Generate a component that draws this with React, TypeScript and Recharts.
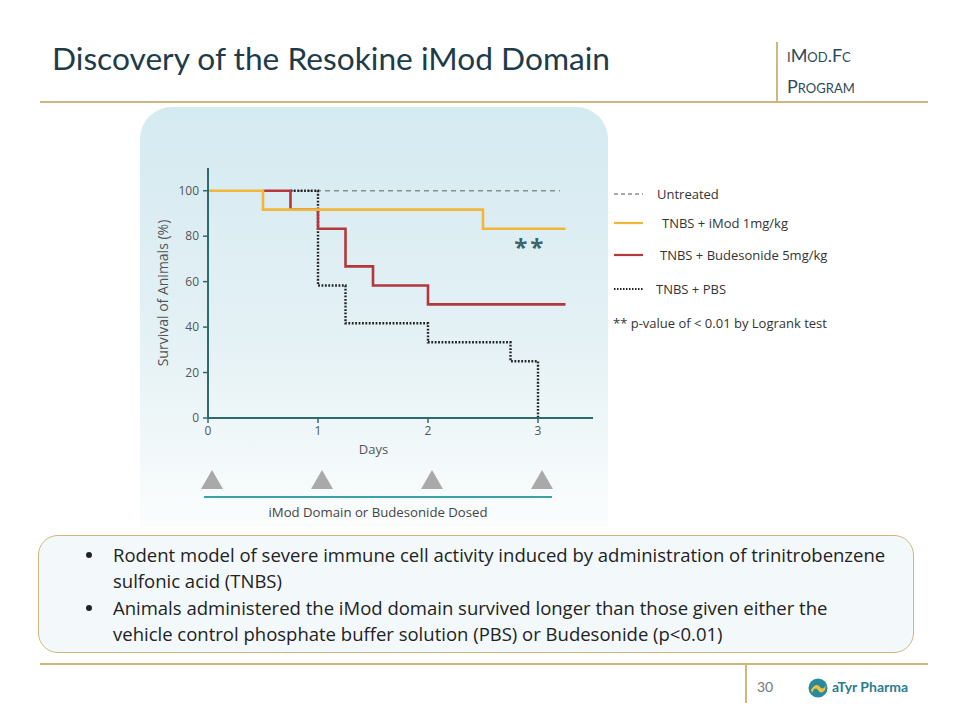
import React from "react";
import {
	LineChart,
	Line,
	XAxis,
	YAxis,
	ReferenceDot,
	ScatterChart,
	Scatter,
} from "recharts";

// Kaplan-Meier steps (day, survival %)
const UNTREATED = [
	{ day: 0, value: 100 },
	{ day: 3.2, value: 100 },
];
const IMOD = [
	{ day: 0, value: 100 },
	{ day: 0.5, value: 91.7 },
	{ day: 2.5, value: 83.3 },
	{ day: 3.25, value: 83.3 },
];
const BUDESONIDE = [
	{ day: 0.5, value: 100 },
	{ day: 0.75, value: 91.7 },
	{ day: 1, value: 83.3 },
	{ day: 1.25, value: 66.7 },
	{ day: 1.5, value: 58.3 },
	{ day: 2, value: 50 },
	{ day: 3.25, value: 50 },
];
const PBS = [
	{ day: 0.75, value: 100 },
	{ day: 1, value: 58.3 },
	{ day: 1.25, value: 41.7 },
	{ day: 2, value: 33.3 },
	{ day: 2.75, value: 25 },
	{ day: 3, value: 0 },
];
const DOSE_DAYS = [0, 1, 2, 3];
const X_TICKS = [0, 1, 2, 3];
const Y_TICKS = [0, 20, 40, 60, 80, 100];

const LEGEND = [
	{ label: "Untreated", color: "#8c8c8c", dash: "4 3", width: 1.6, x: 657 },
	{ label: "TNBS + iMod 1mg/kg", color: "#f2b63a", dash: "", width: 2.2, x: 662 },
	{ label: "TNBS + Budesonide 5mg/kg", color: "#b3373c", dash: "", width: 2.2, x: 660 },
	{ label: "TNBS + PBS", color: "#222", dash: "1.5 1.5", width: 2, x: 656 },
];
const LEGEND_Y = [194, 223, 255, 289];

const BULLETS = [
	[
		"Rodent model of severe immune cell activity induced by administration of trinitrobenzene",
		"sulfonic acid (TNBS)",
	],
	[
		"Animals administered the iMod domain survived longer than those given either the",
		"vehicle control phosphate buffer solution (PBS) or Budesonide (p<0.01)",
	],
];

const AXIS = "#2f6b6c";
const GOLD = "#d2b57c";
const TICK = { fill: "#555", fontSize: 12, fontFamily: "Open Sans" };

const Triangle = (props: any) => {
	const { cx, cy } = props;
	const x = cx + 4;
	return (
		<polygon
			points={`${x - 11},${cy + 9} ${x + 11},${cy + 9} ${x},${cy - 10}`}
			fill="#a9a9a9"
		/>
	);
};

export default function App() {
	return (
		<div
			style={{
				position: "absolute",
				left: 0,
				top: 0,
				width: 960,
				height: 720,
				background: "#fff",
				fontFamily: "Lato",
				overflow: "hidden",
			}}
		>
			{/* header */}
			<div
				style={{
					position: "absolute",
					left: 52,
					top: 39,
					fontSize: 31.7,
					color: "#1d3b49",
					whiteSpace: "nowrap",
				}}
			>
				Discovery of the Resokine iMod Domain
			</div>
			<div style={{ position: "absolute", left: 40, top: 101, width: 888, height: 1.5, background: GOLD }} />
			<div style={{ position: "absolute", left: 776, top: 42, width: 1.5, height: 60, background: GOLD }} />
			<div
				style={{
					position: "absolute",
					left: 787,
					top: 40,
					fontSize: 18,
					lineHeight: "31px",
					color: "#2c4a5a",
					fontVariant: "small-caps",
				}}
			>
				<div>iMod.Fc</div>
				<div>Program</div>
			</div>

			{/* chart panel */}
			<div
				style={{
					position: "absolute",
					left: 140,
					top: 107,
					width: 468,
					height: 420,
					borderRadius: "32px 32px 0 0",
					background: "linear-gradient(#d4eaf1 0%, #e4f1f5 55%, #fbfdfd 100%)",
				}}
			/>
			<div style={{ position: "absolute", left: 140, top: 150 }}>
				<LineChart
					width={468}
					height={320}
					margin={{ top: 18, right: 15, left: 0, bottom: 16 }}
				>
					<XAxis
						type="number"
						dataKey="day"
						domain={[0, 3.5]}
						ticks={X_TICKS}
						allowDataOverflow
						tickSize={5}
						tickMargin={3}
						height={36}
						tick={TICK}
						axisLine={{ stroke: AXIS, strokeWidth: 2 }}
						tickLine={{ stroke: AXIS, strokeWidth: 1.5 }}
						label={{
							value: "Days",
							position: "insideBottom",
							offset: 0,
							dx: -27,
							fill: "#555",
							fontSize: 13,
							fontFamily: "Open Sans",
						}}
					/>
					<YAxis
						type="number"
						dataKey="value"
						domain={[0, 110]}
						ticks={Y_TICKS}
						width={68}
						tickSize={5}
						tickMargin={4}
						tick={TICK}
						axisLine={{ stroke: AXIS, strokeWidth: 2 }}
						tickLine={{ stroke: AXIS, strokeWidth: 1.5 }}
						label={{
							value: "Survival of Animals (%)",
							angle: -90,
							position: "insideLeft",
							dx: 18,
							style: { textAnchor: "middle" },
							fill: "#555",
							fontSize: 14,
							fontFamily: "Open Sans",
						}}
					/>
					<Line
						data={UNTREATED}
						dataKey="value"
						type="stepAfter"
						stroke="#8c8c8c"
						strokeWidth={1.6}
						strokeDasharray="5 4"
						dot={false}
						isAnimationActive={false}
					/>
					<Line
						data={PBS}
						dataKey="value"
						type="stepAfter"
						stroke="#222"
						strokeWidth={2.4}
						strokeDasharray="1.8 1.6"
						dot={false}
						isAnimationActive={false}
					/>
					<Line
						data={BUDESONIDE}
						dataKey="value"
						type="stepAfter"
						stroke="#b3373c"
						strokeWidth={2.6}
						dot={false}
						isAnimationActive={false}
					/>
					<Line
						data={IMOD}
						dataKey="value"
						type="stepAfter"
						stroke="#f2b63a"
						strokeWidth={2.6}
						dot={false}
						isAnimationActive={false}
					/>
					<ReferenceDot
						x={2.93}
						y={75}
						r={0}
						fill="none"
						stroke="none"
						label={{
							value: "**",
							fill: "#3f6469",
							fontSize: 24,
							fontWeight: 700,
							letterSpacing: 3,
							fontFamily: "Open Sans",
						}}
					/>
				</LineChart>
			</div>

			{/* dosing markers */}
			<div style={{ position: "absolute", left: 140, top: 460 }}>
				<ScatterChart width={468} height={40} margin={{ top: 0, right: 15, left: 68, bottom: 0 }}>
					<XAxis type="number" dataKey="day" domain={[0, 3.5]} hide />
					<YAxis type="number" dataKey="y" domain={[0, 1]} hide />
					<Scatter
						data={DOSE_DAYS.map((d) => ({ day: d, y: 0.5 }))}
						shape={Triangle}
						isAnimationActive={false}
					/>
				</ScatterChart>
			</div>
			<div style={{ position: "absolute", left: 204, top: 496, width: 348, height: 2, background: "#3aa2a6" }} />
			<div
				style={{
					position: "absolute",
					left: 204,
					top: 503,
					width: 348,
					textAlign: "center",
					fontSize: 13.2,
					fontFamily: "Open Sans",
					color: "#444",
				}}
			>
				iMod Domain or Budesonide Dosed
			</div>

			{/* legend */}
			<svg style={{ position: "absolute", left: 0, top: 0 }} width={960} height={400}>
				{LEGEND.map((l, i) => (
					<line
						key={l.label}
						x1={614}
						x2={643}
						y1={LEGEND_Y[i]}
						y2={LEGEND_Y[i]}
						stroke={l.color}
						strokeWidth={l.width}
						strokeDasharray={l.dash}
					/>
				))}
			</svg>
			{LEGEND.map((l, i) => (
				<div
					key={l.label}
					style={{
						position: "absolute",
						left: l.x,
						top: LEGEND_Y[i] - 10,
						lineHeight: "20px",
						fontSize: 13,
						fontFamily: "Open Sans",
						color: "#333",
						whiteSpace: "nowrap",
					}}
				>
					{l.label}
				</div>
			))}
			<div
				style={{
					position: "absolute",
					left: 613,
					top: 313,
					lineHeight: "20px",
					fontSize: 13,
					fontFamily: "Open Sans",
					color: "#333",
					whiteSpace: "nowrap",
				}}
			>
				** p-value of &lt; 0.01 by Logrank test
			</div>

			{/* bullet box */}
			<div
				style={{
					position: "absolute",
					left: 38,
					top: 535,
					width: 874,
					height: 116,
					border: `1.5px solid ${GOLD}`,
					borderRadius: 20,
					background: "#f3f9fb",
				}}
			/>
			{BULLETS.map((b, i) =>
				b.map((line, j) => (
					<div
						key={`${i}-${j}`}
						style={{
							position: "absolute",
							left: 113,
							top: 542 + i * 53 + j * 26,
							lineHeight: "26px",
							fontSize: 18.5,
							fontFamily: "Open Sans",
							color: "#222",
							whiteSpace: "nowrap",
						}}
					>
						{j === 0 && (
							<span
								style={{
									position: "absolute",
									left: -27,
									top: 10,
									width: 6,
									height: 6,
									borderRadius: 3,
									background: "#222",
								}}
							/>
						)}
						{line}
					</div>
				)),
			)}

			{/* footer */}
			<div style={{ position: "absolute", left: 40, top: 663, width: 888, height: 1.5, background: GOLD }} />
			<div style={{ position: "absolute", left: 745, top: 663, width: 1.5, height: 40, background: GOLD }} />
			<div style={{ position: "absolute", left: 757, top: 678, fontSize: 14, color: "#777" }}>30</div>
			<svg style={{ position: "absolute", left: 808, top: 678 }} width={20} height={20}>
				<circle cx={10} cy={10} r={9.5} fill="#2a8a9a" />
				<path d="M3 12 Q8 4 12 9 Q15 13 18 7 L17 12 Q13 17 10 12 Q7 8 4 15 Z" fill="#f2c23a" />
			</svg>
			<div
				style={{
					position: "absolute",
					left: 832,
					top: 678,
					fontSize: 14,
					fontWeight: 700,
					color: "#2a7d8f",
				}}
			>
				aTyr Pharma
			</div>
		</div>
	);
}
